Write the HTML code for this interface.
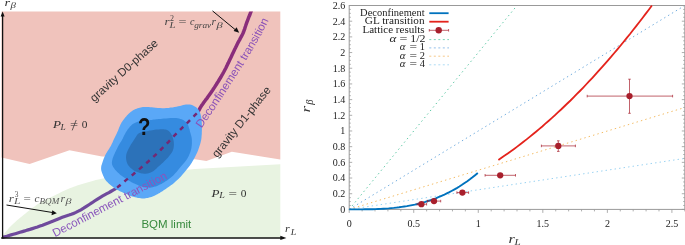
<!DOCTYPE html>
<html><head><meta charset="utf-8"><style>
html,body{margin:0;padding:0;background:#fff;}
svg{display:block;will-change:transform;}
</style></head><body>
<svg width="685" height="245" viewBox="0 0 685 245">
<rect width="685" height="245" fill="#fff"/>
<path d="M1.5,11.5 L280.3,11.5 L280.3,159.6 L231.8,151.8 L206.4,160.9 L195.0,159.3 L102.0,156.4 L69.5,150.2 L29.6,164.1 L1.5,157.4Z" fill="#f0c3bc"/>
<path d="M2.4,237.5 L2.5,237.1 L2.7,236.6 L2.8,236.2 L3.0,235.7 L3.1,235.3 L3.3,235.0 L3.4,234.8 L3.4,234.7 L3.5,234.6 L3.6,234.5 L3.8,234.2 L4.3,233.7 L5.0,232.9 L5.7,231.9 L6.7,230.7 L7.7,229.4 L8.9,228.1 L10.2,226.7 L11.7,225.3 L13.3,223.8 L15.0,222.2 L16.8,220.6 L18.7,219.1 L20.4,217.6 L22.1,216.2 L23.8,214.8 L25.5,213.4 L27.2,212.0 L28.9,210.7 L30.6,209.4 L32.3,208.1 L33.9,206.9 L35.5,205.7 L37.1,204.5 L38.9,203.4 L40.8,202.2 L43.0,201.0 L45.4,199.8 L47.9,198.6 L50.4,197.4 L52.8,196.2 L55.0,195.2 L56.9,194.3 L58.7,193.4 L60.4,192.6 L61.9,191.8 L63.5,191.0 L65.2,190.3 L66.9,189.6 L68.6,188.8 L70.3,188.1 L72.0,187.5 L73.7,186.8 L75.4,186.2 L77.1,185.6 L78.8,185.1 L80.5,184.5 L82.2,184.0 L83.9,183.5 L85.6,183.0 L87.3,182.5 L89.1,182.0 L90.9,181.4 L92.6,181.0 L94.3,180.5 L95.8,180.1 L97.2,179.8 L98.4,179.5 L99.6,179.3 L100.7,179.0 L101.8,178.8 L103.0,178.6 L195.0,169.1 L280.3,164.2 L280.3,237.8 L2.4,237.8Z" fill="#e8f3e1"/>
<clipPath id="cp"><rect x="0" y="11.4" width="285" height="230"/></clipPath>
<path d="M2.5,237.4 L4.7,236.8 L6.8,236.2 L9.0,235.5 L11.1,234.9 L13.3,234.3 L15.4,233.7 L17.7,233.0 L20.0,232.3 L22.4,231.6 L24.8,230.9 L27.3,230.1 L29.8,229.4 L32.4,228.6 L34.9,227.8 L37.5,227.0 L40.0,226.1 L42.5,225.2 L45.0,224.2 L47.6,223.2 L50.1,222.2 L52.6,221.2 L55.1,220.2 L57.6,219.2 L60.0,218.2 L62.3,217.3 L64.6,216.5 L66.8,215.8 L69.0,215.1 L71.3,214.3 L73.5,213.4 L75.9,212.4 L78.3,211.2 L80.9,209.8 L83.6,208.2 L86.4,206.4 L89.3,204.5 L92.1,202.7 L94.9,200.8 L97.5,199.1 L100.0,197.6 L102.3,196.2 L104.6,194.9 L106.8,193.7 L108.9,192.6 L110.8,191.5 L112.7,190.4 L114.4,189.4 L116.0,188.4 L117.4,187.5 L118.6,186.6 L119.6,185.8 L120.5,185.0 L121.4,184.3 L122.2,183.5 L123.1,182.8 L124.0,182.0" fill="none" stroke="#6f4a9c" stroke-width="3.2" stroke-linecap="butt"/>
<path d="M190.0,121.0 L190.9,120.0 L191.8,119.1 L192.7,118.1 L193.6,117.1 L194.5,116.1 L195.4,115.2 L196.2,114.2 L197.0,113.2 L197.7,112.2 L198.3,111.3 L198.9,110.3 L199.4,109.4 L199.9,108.4 L200.5,107.4 L201.1,106.4 L201.8,105.3 L202.6,104.2 L203.4,103.0 L204.3,101.8 L205.2,100.6 L206.1,99.3 L207.1,98.1 L208.0,96.8 L208.9,95.5 L209.8,94.2 L210.7,92.9 L211.7,91.5 L212.6,90.2 L213.5,88.8 L214.5,87.4 L215.4,85.9 L216.3,84.5 L217.2,83.0 L218.2,81.5 L219.1,80.0 L220.0,78.5 L220.9,77.0 L221.8,75.4 L222.7,73.9 L223.6,72.3 L224.4,70.7 L225.2,69.2 L226.0,67.7 L226.8,66.1 L227.5,64.5 L228.3,62.9 L229.1,61.2 L229.9,59.5 L230.8,57.7 L231.7,55.8 L232.6,53.8 L233.6,51.7 L234.5,49.7 L235.5,47.8 L236.4,45.9 L237.2,44.2 L238.0,42.6 L238.8,41.1 L239.6,39.8 L240.3,38.4 L241.0,37.1 L241.7,35.8 L242.4,34.5 L243.0,33.2 L243.6,31.8 L244.1,30.5 L244.6,29.1 L245.0,27.7 L245.5,26.3 L245.9,25.0 L246.4,23.6 L246.9,22.2 L247.4,20.8 L248.0,19.3 L248.6,17.7 L249.2,16.2 L249.8,14.8 L250.3,13.4 L250.8,12.2 L251.2,11.1 L251.5,10.3 L251.8,9.6 L252.0,9.0 L252.1,8.6 L252.3,8.2 L252.4,7.9 L252.5,7.5 L252.7,7.0" fill="none" stroke="#892d7b" stroke-width="3.5" stroke-linecap="butt" clip-path="url(#cp)"/>
<clipPath id="cpb"><path d="M137.6,108.3 L138.7,108.1 L139.7,107.8 L140.8,107.6 L141.9,107.3 L143.0,107.1 L144.0,107.0 L145.0,106.9 L145.8,106.9 L146.6,107.0 L147.6,107.0 L148.6,107.1 L150.0,107.2 L151.7,107.3 L153.6,107.6 L155.7,107.8 L157.9,108.0 L160.1,108.1 L162.2,108.2 L164.3,108.2 L166.4,108.0 L168.5,107.9 L170.6,107.6 L172.6,107.4 L174.5,107.1 L176.4,106.8 L178.2,106.3 L180.0,105.9 L181.7,105.4 L183.2,105.1 L184.7,104.8 L186.0,104.6 L187.1,104.5 L188.1,104.5 L189.1,104.5 L190.0,104.6 L191.0,104.8 L192.0,105.1 L193.0,105.4 L193.9,105.9 L194.8,106.4 L195.7,107.0 L196.5,107.6 L197.2,108.3 L197.9,109.0 L198.5,109.8 L199.0,110.7 L199.5,111.6 L200.0,112.6 L200.4,113.7 L200.7,114.8 L201.0,115.9 L201.2,117.2 L201.4,118.6 L201.6,120.0 L201.7,121.6 L201.8,123.3 L201.9,125.1 L201.9,127.0 L201.9,128.8 L201.9,130.6 L201.8,132.3 L201.8,134.1 L201.6,135.8 L201.5,137.5 L201.3,139.2 L201.0,140.8 L200.6,142.4 L200.2,144.0 L199.7,145.6 L199.2,147.1 L198.7,148.6 L198.2,150.0 L197.7,151.3 L197.2,152.4 L196.7,153.6 L196.2,154.6 L195.6,155.8 L195.0,157.0 L194.3,158.3 L193.5,159.7 L192.7,161.0 L191.9,162.5 L190.9,163.9 L189.9,165.4 L188.7,167.0 L187.5,168.6 L186.1,170.3 L184.7,171.9 L183.4,173.5 L182.1,175.0 L180.9,176.4 L179.6,177.7 L178.4,178.9 L177.2,180.0 L176.1,181.1 L175.0,182.1 L174.0,183.0 L173.1,183.7 L172.2,184.4 L171.3,185.0 L170.3,185.7 L169.3,186.4 L168.2,187.2 L167.0,188.1 L165.8,188.9 L164.5,189.8 L163.3,190.6 L162.1,191.4 L160.9,192.1 L159.7,192.9 L158.5,193.6 L157.4,194.2 L156.2,194.8 L155.0,195.4 L153.8,195.9 L152.6,196.4 L151.5,196.9 L150.3,197.3 L149.1,197.6 L147.9,197.9 L146.7,198.1 L145.6,198.3 L144.4,198.4 L143.2,198.4 L142.0,198.4 L140.7,198.3 L139.3,198.1 L137.9,197.9 L136.5,197.6 L135.0,197.2 L133.5,196.8 L132.1,196.4 L130.7,195.9 L129.2,195.4 L127.8,194.8 L126.3,194.1 L124.9,193.5 L123.6,192.9 L122.3,192.3 L121.1,191.8 L119.8,191.2 L118.7,190.6 L117.5,190.0 L116.4,189.4 L115.3,188.7 L114.3,188.0 L113.3,187.3 L112.4,186.5 L111.4,185.8 L110.5,185.0 L109.6,184.2 L108.7,183.4 L107.8,182.6 L107.0,181.8 L106.2,180.9 L105.5,180.0 L104.8,179.0 L104.2,177.9 L103.7,176.8 L103.2,175.7 L102.7,174.6 L102.3,173.6 L102.0,172.7 L101.7,171.8 L101.4,171.0 L101.3,170.2 L101.1,169.3 L101.1,168.5 L101.1,167.7 L101.2,166.9 L101.3,166.1 L101.5,165.3 L101.8,164.4 L102.1,163.4 L102.5,162.2 L103.0,160.8 L103.5,159.3 L104.1,157.8 L104.7,156.4 L105.2,155.2 L105.7,154.2 L106.2,153.2 L106.8,152.4 L107.3,151.6 L107.8,150.8 L108.3,150.0 L108.8,149.2 L109.3,148.4 L109.8,147.6 L110.3,146.7 L110.8,145.9 L111.3,144.9 L111.8,143.8 L112.4,142.7 L112.9,141.5 L113.4,140.3 L114.0,139.1 L114.5,138.0 L115.0,136.9 L115.6,135.8 L116.1,134.7 L116.6,133.7 L117.1,132.6 L117.6,131.5 L118.1,130.4 L118.5,129.3 L119.0,128.1 L119.4,127.0 L119.9,126.0 L120.3,125.0 L120.7,124.1 L121.1,123.4 L121.5,122.6 L121.9,122.0 L122.4,121.3 L122.9,120.5 L123.5,119.7 L124.1,118.9 L124.8,118.0 L125.4,117.2 L126.2,116.4 L126.9,115.6 L127.7,114.8 L128.4,114.0 L129.2,113.3 L130.1,112.5 L130.9,111.8 L131.8,111.2 L132.7,110.6 L133.6,110.1 L134.6,109.6 L135.6,109.1 L136.6,108.7 L137.6,108.3 L138.6,108.0 L139.7,107.7 L140.8,107.5 L141.9,107.3 L142.9,107.1 L144.0,107.0 L145.0,106.9 L146.0,107.0 L147.0,107.0 L148.0,107.1 L149.0,107.1 L150.0,107.2Z"/></clipPath>
<path d="M137.6,108.3 L138.7,108.1 L139.7,107.8 L140.8,107.6 L141.9,107.3 L143.0,107.1 L144.0,107.0 L145.0,106.9 L145.8,106.9 L146.6,107.0 L147.6,107.0 L148.6,107.1 L150.0,107.2 L151.7,107.3 L153.6,107.6 L155.7,107.8 L157.9,108.0 L160.1,108.1 L162.2,108.2 L164.3,108.2 L166.4,108.0 L168.5,107.9 L170.6,107.6 L172.6,107.4 L174.5,107.1 L176.4,106.8 L178.2,106.3 L180.0,105.9 L181.7,105.4 L183.2,105.1 L184.7,104.8 L186.0,104.6 L187.1,104.5 L188.1,104.5 L189.1,104.5 L190.0,104.6 L191.0,104.8 L192.0,105.1 L193.0,105.4 L193.9,105.9 L194.8,106.4 L195.7,107.0 L196.5,107.6 L197.2,108.3 L197.9,109.0 L198.5,109.8 L199.0,110.7 L199.5,111.6 L200.0,112.6 L200.4,113.7 L200.7,114.8 L201.0,115.9 L201.2,117.2 L201.4,118.6 L201.6,120.0 L201.7,121.6 L201.8,123.3 L201.9,125.1 L201.9,127.0 L201.9,128.8 L201.9,130.6 L201.8,132.3 L201.8,134.1 L201.6,135.8 L201.5,137.5 L201.3,139.2 L201.0,140.8 L200.6,142.4 L200.2,144.0 L199.7,145.6 L199.2,147.1 L198.7,148.6 L198.2,150.0 L197.7,151.3 L197.2,152.4 L196.7,153.6 L196.2,154.6 L195.6,155.8 L195.0,157.0 L194.3,158.3 L193.5,159.7 L192.7,161.0 L191.9,162.5 L190.9,163.9 L189.9,165.4 L188.7,167.0 L187.5,168.6 L186.1,170.3 L184.7,171.9 L183.4,173.5 L182.1,175.0 L180.9,176.4 L179.6,177.7 L178.4,178.9 L177.2,180.0 L176.1,181.1 L175.0,182.1 L174.0,183.0 L173.1,183.7 L172.2,184.4 L171.3,185.0 L170.3,185.7 L169.3,186.4 L168.2,187.2 L167.0,188.1 L165.8,188.9 L164.5,189.8 L163.3,190.6 L162.1,191.4 L160.9,192.1 L159.7,192.9 L158.5,193.6 L157.4,194.2 L156.2,194.8 L155.0,195.4 L153.8,195.9 L152.6,196.4 L151.5,196.9 L150.3,197.3 L149.1,197.6 L147.9,197.9 L146.7,198.1 L145.6,198.3 L144.4,198.4 L143.2,198.4 L142.0,198.4 L140.7,198.3 L139.3,198.1 L137.9,197.9 L136.5,197.6 L135.0,197.2 L133.5,196.8 L132.1,196.4 L130.7,195.9 L129.2,195.4 L127.8,194.8 L126.3,194.1 L124.9,193.5 L123.6,192.9 L122.3,192.3 L121.1,191.8 L119.8,191.2 L118.7,190.6 L117.5,190.0 L116.4,189.4 L115.3,188.7 L114.3,188.0 L113.3,187.3 L112.4,186.5 L111.4,185.8 L110.5,185.0 L109.6,184.2 L108.7,183.4 L107.8,182.6 L107.0,181.8 L106.2,180.9 L105.5,180.0 L104.8,179.0 L104.2,177.9 L103.7,176.8 L103.2,175.7 L102.7,174.6 L102.3,173.6 L102.0,172.7 L101.7,171.8 L101.4,171.0 L101.3,170.2 L101.1,169.3 L101.1,168.5 L101.1,167.7 L101.2,166.9 L101.3,166.1 L101.5,165.3 L101.8,164.4 L102.1,163.4 L102.5,162.2 L103.0,160.8 L103.5,159.3 L104.1,157.8 L104.7,156.4 L105.2,155.2 L105.7,154.2 L106.2,153.2 L106.8,152.4 L107.3,151.6 L107.8,150.8 L108.3,150.0 L108.8,149.2 L109.3,148.4 L109.8,147.6 L110.3,146.7 L110.8,145.9 L111.3,144.9 L111.8,143.8 L112.4,142.7 L112.9,141.5 L113.4,140.3 L114.0,139.1 L114.5,138.0 L115.0,136.9 L115.6,135.8 L116.1,134.7 L116.6,133.7 L117.1,132.6 L117.6,131.5 L118.1,130.4 L118.5,129.3 L119.0,128.1 L119.4,127.0 L119.9,126.0 L120.3,125.0 L120.7,124.1 L121.1,123.4 L121.5,122.6 L121.9,122.0 L122.4,121.3 L122.9,120.5 L123.5,119.7 L124.1,118.9 L124.8,118.0 L125.4,117.2 L126.2,116.4 L126.9,115.6 L127.7,114.8 L128.4,114.0 L129.2,113.3 L130.1,112.5 L130.9,111.8 L131.8,111.2 L132.7,110.6 L133.6,110.1 L134.6,109.6 L135.6,109.1 L136.6,108.7 L137.6,108.3 L138.6,108.0 L139.7,107.7 L140.8,107.5 L141.9,107.3 L142.9,107.1 L144.0,107.0 L145.0,106.9 L146.0,107.0 L147.0,107.0 L148.0,107.1 L149.0,107.1 L150.0,107.2Z" fill="#5aa8f7"/>
<path d="M138.6,121.5 L138.8,121.4 L138.8,121.3 L138.9,121.1 L139.0,121.0 L139.4,120.9 L140.0,120.8 L141.0,120.7 L142.2,120.6 L143.7,120.6 L145.2,120.5 L146.6,120.4 L148.0,120.3 L149.2,120.2 L150.4,120.0 L151.5,119.9 L152.7,119.7 L153.8,119.5 L155.0,119.4 L156.1,119.3 L157.2,119.2 L158.3,119.1 L159.4,119.0 L160.7,118.9 L162.2,118.8 L164.0,118.6 L166.1,118.5 L168.3,118.2 L170.5,118.1 L172.6,118.0 L174.5,118.0 L176.1,118.1 L177.7,118.3 L179.1,118.6 L180.4,118.9 L181.6,119.3 L182.7,119.8 L183.7,120.3 L184.6,120.9 L185.4,121.5 L186.2,122.2 L186.9,123.0 L187.5,124.0 L188.1,125.1 L188.6,126.4 L189.0,127.9 L189.5,129.3 L189.8,130.8 L190.2,132.2 L190.6,133.5 L190.9,134.8 L191.3,136.1 L191.6,137.4 L191.8,138.8 L191.9,140.2 L191.9,141.7 L191.9,143.3 L191.8,144.9 L191.6,146.6 L191.4,148.2 L191.0,149.8 L190.5,151.4 L190.0,153.0 L189.3,154.6 L188.6,156.2 L187.8,157.7 L186.9,159.2 L186.0,160.6 L184.9,161.9 L183.8,163.2 L182.7,164.4 L181.6,165.7 L180.5,166.9 L179.5,168.2 L178.5,169.4 L177.5,170.7 L176.5,171.9 L175.5,173.1 L174.4,174.3 L173.3,175.4 L172.1,176.5 L170.9,177.5 L169.6,178.5 L168.3,179.5 L167.0,180.4 L165.6,181.3 L164.3,182.2 L162.8,183.1 L161.4,183.9 L159.9,184.6 L158.5,185.3 L157.1,185.9 L155.6,186.4 L154.2,186.8 L152.8,187.2 L151.3,187.4 L149.9,187.6 L148.5,187.6 L147.0,187.6 L145.6,187.4 L144.2,187.1 L142.8,186.8 L141.5,186.5 L140.2,186.1 L139.0,185.7 L137.7,185.1 L136.6,184.6 L135.4,184.1 L134.4,183.6 L133.5,183.2 L132.7,182.8 L131.9,182.4 L131.2,182.0 L130.4,181.5 L129.5,181.0 L128.5,180.4 L127.4,179.7 L126.3,179.0 L125.2,178.3 L124.1,177.6 L123.0,176.8 L122.0,176.0 L120.9,175.2 L119.9,174.4 L119.0,173.6 L118.1,172.7 L117.2,171.9 L116.4,171.1 L115.6,170.2 L114.9,169.4 L114.3,168.6 L113.7,167.8 L113.2,167.0 L112.8,166.3 L112.5,165.6 L112.2,165.0 L112.1,164.4 L112.0,163.7 L111.9,163.0 L111.9,162.3 L112.0,161.5 L112.1,160.7 L112.3,159.9 L112.5,159.0 L112.8,158.1 L113.2,157.1 L113.6,156.0 L114.0,154.9 L114.6,153.8 L115.1,152.6 L115.6,151.5 L116.1,150.4 L116.7,149.3 L117.2,148.2 L117.8,147.1 L118.3,146.0 L118.9,145.0 L119.5,144.0 L120.0,143.1 L120.6,142.2 L121.1,141.4 L121.7,140.5 L122.2,139.5 L122.8,138.5 L123.3,137.3 L123.8,136.2 L124.4,135.1 L125.0,134.0 L125.5,133.0 L126.0,132.1 L126.6,131.2 L127.1,130.4 L127.6,129.6 L128.2,128.9 L128.8,128.1 L129.4,127.4 L130.0,126.6 L130.7,125.9 L131.4,125.2 L132.1,124.6 L132.9,124.0 L133.8,123.5 L134.8,123.0 L135.9,122.5 L137.0,122.1 L137.9,121.8 L138.6,121.5 L139.0,121.3 L139.1,121.1 L139.2,121.0 L139.2,121.0 L139.4,120.9 L140.0,120.8 L141.0,120.7 L142.2,120.6 L143.6,120.5 L145.1,120.5 L146.6,120.4 L148.0,120.3Z" fill="#358be0"/>
<path d="M134.6,139.0 L135.3,138.0 L135.9,137.0 L136.5,135.9 L137.2,134.9 L138.0,134.0 L138.9,133.3 L140.0,132.7 L141.3,132.3 L142.6,132.0 L144.0,131.7 L145.4,131.5 L146.8,131.2 L148.1,130.9 L149.5,130.6 L150.8,130.4 L152.1,130.2 L153.5,130.0 L154.8,129.8 L156.2,129.6 L157.5,129.5 L158.9,129.4 L160.3,129.3 L161.5,129.3 L162.7,129.3 L163.7,129.3 L164.7,129.4 L165.6,129.5 L166.4,129.7 L167.2,130.0 L168.0,130.4 L168.8,131.0 L169.5,131.7 L170.2,132.5 L170.9,133.4 L171.5,134.4 L172.0,135.5 L172.5,136.7 L172.9,138.0 L173.3,139.4 L173.6,140.8 L173.8,142.2 L173.9,143.5 L173.9,144.7 L173.8,146.0 L173.7,147.2 L173.5,148.3 L173.2,149.4 L172.8,150.5 L172.4,151.5 L171.8,152.4 L171.3,153.3 L170.6,154.2 L169.9,155.1 L169.2,156.0 L168.4,156.9 L167.6,157.9 L166.7,158.8 L165.8,159.7 L164.9,160.6 L164.0,161.5 L163.1,162.4 L162.2,163.2 L161.3,164.0 L160.3,164.9 L159.4,165.7 L158.5,166.5 L157.6,167.3 L156.8,168.2 L155.9,169.0 L155.0,169.8 L154.1,170.6 L153.2,171.2 L152.2,171.8 L151.2,172.3 L150.1,172.7 L149.1,173.1 L148.0,173.4 L147.0,173.6 L146.0,173.7 L145.0,173.7 L143.9,173.7 L142.9,173.6 L141.9,173.4 L140.9,173.2 L139.9,172.9 L138.8,172.6 L137.8,172.3 L136.7,171.8 L135.7,171.4 L134.8,170.9 L133.9,170.4 L133.0,169.8 L132.2,169.2 L131.4,168.6 L130.6,167.9 L129.9,167.2 L129.3,166.5 L128.6,165.7 L128.1,165.0 L127.6,164.2 L127.2,163.3 L126.8,162.3 L126.5,161.2 L126.3,160.1 L126.1,158.8 L126.0,157.5 L126.1,156.3 L126.2,155.0 L126.5,153.8 L126.9,152.6 L127.4,151.3 L128.0,150.1 L128.6,148.8 L129.3,147.5 L130.1,146.1 L130.9,144.6 L131.9,143.1 L132.8,141.7 L133.7,140.3 L134.6,139.0 L135.3,137.8 L136.0,136.8 L136.6,135.8 L137.2,134.8 L138.0,134.0 L138.9,133.3 L140.0,132.7 L141.3,132.3 L142.6,132.0 L144.0,131.8 L145.4,131.5 L146.8,131.2Z" fill="#2c72b9"/>
<path d="M100.0,197.6 L102.0,196.4 L104.1,195.2 L106.3,194.0 L108.4,192.8 L110.5,191.6 L112.4,190.4 L114.3,189.3 L116.0,188.2 L117.5,187.2 L118.7,186.2 L119.9,185.4 L120.9,184.5 L121.9,183.6 L123.0,182.6 L124.3,181.6 L125.7,180.4 L127.3,179.1 L129.1,177.6 L131.0,176.1 L133.0,174.5 L135.0,172.8 L137.0,171.1 L138.9,169.5 L140.8,167.9 L142.6,166.3 L144.4,164.8 L146.2,163.2 L148.0,161.7 L149.8,160.1 L151.5,158.5 L153.3,156.9 L155.0,155.3 L156.8,153.6 L158.6,151.8 L160.5,150.0 L162.3,148.2 L164.0,146.4 L165.7,144.7 L167.2,143.2 L168.6,141.8 L169.6,140.7 L170.4,140.0 L170.9,139.4 L171.3,138.9 L171.8,138.3 L172.6,137.5 L173.6,136.4 L175.1,134.9 L177.2,132.8 L179.9,130.1 L182.9,127.1 L186.1,124.0 L189.3,120.8 L192.3,117.8 L194.9,115.2 L197.0,113.2 L198.5,111.7 L199.6,110.7 L200.4,109.9 L201.0,109.3 L201.4,108.9 L201.9,108.5 L202.4,108.1 L203.0,107.5" fill="none" stroke="#742873" stroke-width="2.5" stroke-dasharray="4.5 5" stroke-dashoffset="-0.8" clip-path="url(#cpb)"/>
<line x1="1.2" y1="237.9" x2="281" y2="237.9" stroke="#111" stroke-width="1.5"/>
<path d="M280.3,235.7 L286.4,237.9 L280.3,240.1 Z" fill="#111"/>
<line x1="2.6" y1="238.6" x2="2.6" y2="16" stroke="#111" stroke-width="1.3"/>
<path d="M0.6,16.6 L2.6,11.6 L4.6,16.6 Z" fill="#111"/>
<line x1="212.5" y1="10.9" x2="236" y2="30.3" stroke="#111" stroke-width="1"/>
<path d="M239.2,32.8 L233.6,30.9 L236.6,27.3 Z" fill="#111"/>
<line x1="6.5" y1="205" x2="53" y2="212.6" stroke="#111" stroke-width="1"/>
<path d="M56.8,213.3 L51.5,215.3 L52.3,210.3 Z" fill="#111"/>
<text x="4.4" y="6.1" font-size="9.6" fill="#333" style="font-family:&quot;Liberation Serif&quot;,serif;font-style:italic" textLength="5.6" lengthAdjust="spacingAndGlyphs">r</text>
<text x="10.6" y="8.3" font-size="7.5" fill="#333" style="font-family:&quot;Liberation Serif&quot;,serif;font-style:italic" textLength="5.4" lengthAdjust="spacingAndGlyphs">β</text>
<text x="284.9" y="232.1" font-size="10.8" fill="#333" style="font-family:&quot;Liberation Serif&quot;,serif;font-style:italic" textLength="4.7" lengthAdjust="spacingAndGlyphs">r</text>
<text x="290.8" y="234.6" font-size="8.0" fill="#333" style="font-family:&quot;Liberation Serif&quot;,serif;font-style:italic" textLength="5.5" lengthAdjust="spacingAndGlyphs">L</text>
<text x="164.4" y="25.3" font-size="11.4" fill="#444" style="font-family:&quot;Liberation Serif&quot;,serif;font-style:italic" textLength="5.1" lengthAdjust="spacingAndGlyphs">r</text>
<text x="170.0" y="21.2" font-size="8.0" fill="#444" style="font-family:&quot;Liberation Serif&quot;,serif;font-style:normal" textLength="4.0" lengthAdjust="spacingAndGlyphs">2</text>
<text x="169.5" y="27.8" font-size="8.0" fill="#444" style="font-family:&quot;Liberation Serif&quot;,serif;font-style:italic" textLength="6.0" lengthAdjust="spacingAndGlyphs">L</text>
<text x="178.6" y="25.3" font-size="11.4" fill="#444" style="font-family:&quot;Liberation Serif&quot;,serif;font-style:normal" textLength="8.0" lengthAdjust="spacingAndGlyphs">=</text>
<text x="189.9" y="25.3" font-size="11.4" fill="#444" style="font-family:&quot;Liberation Serif&quot;,serif;font-style:italic" textLength="4.5" lengthAdjust="spacingAndGlyphs">c</text>
<text x="194.2" y="27.8" font-size="8.0" fill="#444" style="font-family:&quot;Liberation Serif&quot;,serif;font-style:italic" textLength="17.0" lengthAdjust="spacingAndGlyphs">grav</text>
<text x="211.4" y="25.3" font-size="11.4" fill="#444" style="font-family:&quot;Liberation Serif&quot;,serif;font-style:italic" textLength="4.5" lengthAdjust="spacingAndGlyphs">r</text>
<text x="216.4" y="27.8" font-size="8.0" fill="#444" style="font-family:&quot;Liberation Serif&quot;,serif;font-style:italic" textLength="6.2" lengthAdjust="spacingAndGlyphs">β</text>
<text x="8.7" y="201.8" font-size="11.4" fill="#555" style="font-family:&quot;Liberation Serif&quot;,serif;font-style:italic" textLength="5.2" lengthAdjust="spacingAndGlyphs">r</text>
<text x="14.8" y="197.2" font-size="8.0" fill="#555" style="font-family:&quot;Liberation Serif&quot;,serif;font-style:normal" textLength="3.7" lengthAdjust="spacingAndGlyphs">3</text>
<text x="14.0" y="204.3" font-size="8.0" fill="#555" style="font-family:&quot;Liberation Serif&quot;,serif;font-style:italic" textLength="6.5" lengthAdjust="spacingAndGlyphs">L</text>
<text x="23.4" y="201.8" font-size="11.4" fill="#555" style="font-family:&quot;Liberation Serif&quot;,serif;font-style:normal" textLength="7.3" lengthAdjust="spacingAndGlyphs">=</text>
<text x="34.4" y="201.8" font-size="11.4" fill="#555" style="font-family:&quot;Liberation Serif&quot;,serif;font-style:italic" textLength="5.0" lengthAdjust="spacingAndGlyphs">c</text>
<text x="39.5" y="204.3" font-size="8.0" fill="#555" style="font-family:&quot;Liberation Serif&quot;,serif;font-style:italic" textLength="19.8" lengthAdjust="spacingAndGlyphs">BQM</text>
<text x="60.6" y="201.8" font-size="11.4" fill="#555" style="font-family:&quot;Liberation Serif&quot;,serif;font-style:italic" textLength="4.6" lengthAdjust="spacingAndGlyphs">r</text>
<text x="65.4" y="204.3" font-size="8.0" fill="#555" style="font-family:&quot;Liberation Serif&quot;,serif;font-style:italic" textLength="6.0" lengthAdjust="spacingAndGlyphs">β</text>
<text x="53.0" y="127.8" font-size="11.2" fill="#333" style="font-family:&quot;Liberation Serif&quot;,serif;font-style:italic" textLength="8.0" lengthAdjust="spacingAndGlyphs">P</text>
<text x="60.6" y="129.7" font-size="8.0" fill="#333" style="font-family:&quot;Liberation Serif&quot;,serif;font-style:italic" textLength="5.2" lengthAdjust="spacingAndGlyphs">L</text>
<text x="69.9" y="127.8" font-size="11.2" fill="#333" style="font-family:&quot;Liberation Serif&quot;,serif;font-style:normal" textLength="8.1" lengthAdjust="spacingAndGlyphs">=</text>
<line x1="72.2" y1="130.4" x2="76.2" y2="120" stroke="#333" stroke-width="0.75"/>
<text x="81.7" y="127.9" font-size="11.2" fill="#333" style="font-family:&quot;Liberation Serif&quot;,serif;font-style:normal" textLength="5.7" lengthAdjust="spacingAndGlyphs">0</text>
<text x="211.6" y="196.5" font-size="11.2" fill="#333" style="font-family:&quot;Liberation Serif&quot;,serif;font-style:italic" textLength="8.0" lengthAdjust="spacingAndGlyphs">P</text>
<text x="219.2" y="198.1" font-size="8.0" fill="#333" style="font-family:&quot;Liberation Serif&quot;,serif;font-style:italic" textLength="5.6" lengthAdjust="spacingAndGlyphs">L</text>
<text x="228.5" y="196.6" font-size="11.2" fill="#333" style="font-family:&quot;Liberation Serif&quot;,serif;font-style:normal" textLength="8.5" lengthAdjust="spacingAndGlyphs">=</text>
<text x="240.7" y="196.8" font-size="11.2" fill="#333" style="font-family:&quot;Liberation Serif&quot;,serif;font-style:normal" textLength="5.7" lengthAdjust="spacingAndGlyphs">0</text>
<text x="141.4" y="228.1" font-size="11.5" fill="#388a3e" style="font-family:&quot;Liberation Sans&quot;,sans-serif">BQM limit</text>
<text x="137.9" y="134.8" font-size="23.5" font-weight="bold" fill="#111" style="font-family:&quot;Liberation Sans&quot;,sans-serif" textLength="12.4" lengthAdjust="spacingAndGlyphs">?</text>
<text transform="translate(94.2,102.4) rotate(-42)" font-size="11.5" fill="#333" style="font-family:&quot;Liberation Sans&quot;,sans-serif">gravity D0-phase</text>
<text transform="translate(217.3,158.2) rotate(-51.5)" font-size="11.5" fill="#333" style="font-family:&quot;Liberation Sans&quot;,sans-serif">gravity D1-phase</text>
<defs><path id="tp1" d="M201.4,128.6 Q254.4,51.3 268.8,20"/><path id="tp2" d="M54.9,237.3 L171.1,176.6"/></defs>
<text font-size="11.5" fill="#8a52b8" style="font-family:&quot;Liberation Sans&quot;,sans-serif"><textPath href="#tp1" startOffset="0">Deconfinement transition</textPath></text>
<text font-size="11.5" fill="#8a56bc" style="font-family:&quot;Liberation Sans&quot;,sans-serif"><textPath href="#tp2" startOffset="0">Deconfinement transition</textPath></text>
<line x1="349.2" y1="209.4" x2="517.0" y2="5.5" stroke="#5cc8a4" stroke-width="1.0" stroke-dasharray="1.4 3.15"/>
<line x1="349.2" y1="209.4" x2="684.8" y2="5.5" stroke="#72addf" stroke-width="1.0" stroke-dasharray="1.4 3.15"/>
<line x1="349.2" y1="209.4" x2="684.8" y2="107.5" stroke="#f4bc64" stroke-width="1.0" stroke-dasharray="1.4 3.15"/>
<line x1="349.2" y1="209.4" x2="684.8" y2="158.4" stroke="#98d2f2" stroke-width="1.0" stroke-dasharray="1.4 3.15"/>
<rect x="349.2" y="5.5" width="335.6" height="203.9" fill="none" stroke="#999" stroke-width="1"/>
<line x1="349.2" y1="209.40" x2="352.2" y2="209.40" stroke="#999" stroke-width="0.8"/>
<line x1="684.8" y1="209.40" x2="681.8" y2="209.40" stroke="#999" stroke-width="0.8"/>
<line x1="349.2" y1="205.48" x2="350.8" y2="205.48" stroke="#999" stroke-width="0.8"/>
<line x1="684.8" y1="205.48" x2="683.2" y2="205.48" stroke="#999" stroke-width="0.8"/>
<line x1="349.2" y1="201.56" x2="350.8" y2="201.56" stroke="#999" stroke-width="0.8"/>
<line x1="684.8" y1="201.56" x2="683.2" y2="201.56" stroke="#999" stroke-width="0.8"/>
<line x1="349.2" y1="197.64" x2="350.8" y2="197.64" stroke="#999" stroke-width="0.8"/>
<line x1="684.8" y1="197.64" x2="683.2" y2="197.64" stroke="#999" stroke-width="0.8"/>
<line x1="349.2" y1="193.72" x2="352.2" y2="193.72" stroke="#999" stroke-width="0.8"/>
<line x1="684.8" y1="193.72" x2="681.8" y2="193.72" stroke="#999" stroke-width="0.8"/>
<line x1="349.2" y1="189.80" x2="350.8" y2="189.80" stroke="#999" stroke-width="0.8"/>
<line x1="684.8" y1="189.80" x2="683.2" y2="189.80" stroke="#999" stroke-width="0.8"/>
<line x1="349.2" y1="185.87" x2="350.8" y2="185.87" stroke="#999" stroke-width="0.8"/>
<line x1="684.8" y1="185.87" x2="683.2" y2="185.87" stroke="#999" stroke-width="0.8"/>
<line x1="349.2" y1="181.95" x2="350.8" y2="181.95" stroke="#999" stroke-width="0.8"/>
<line x1="684.8" y1="181.95" x2="683.2" y2="181.95" stroke="#999" stroke-width="0.8"/>
<line x1="349.2" y1="178.03" x2="352.2" y2="178.03" stroke="#999" stroke-width="0.8"/>
<line x1="684.8" y1="178.03" x2="681.8" y2="178.03" stroke="#999" stroke-width="0.8"/>
<line x1="349.2" y1="174.11" x2="350.8" y2="174.11" stroke="#999" stroke-width="0.8"/>
<line x1="684.8" y1="174.11" x2="683.2" y2="174.11" stroke="#999" stroke-width="0.8"/>
<line x1="349.2" y1="170.19" x2="350.8" y2="170.19" stroke="#999" stroke-width="0.8"/>
<line x1="684.8" y1="170.19" x2="683.2" y2="170.19" stroke="#999" stroke-width="0.8"/>
<line x1="349.2" y1="166.27" x2="350.8" y2="166.27" stroke="#999" stroke-width="0.8"/>
<line x1="684.8" y1="166.27" x2="683.2" y2="166.27" stroke="#999" stroke-width="0.8"/>
<line x1="349.2" y1="162.35" x2="352.2" y2="162.35" stroke="#999" stroke-width="0.8"/>
<line x1="684.8" y1="162.35" x2="681.8" y2="162.35" stroke="#999" stroke-width="0.8"/>
<line x1="349.2" y1="158.43" x2="350.8" y2="158.43" stroke="#999" stroke-width="0.8"/>
<line x1="684.8" y1="158.43" x2="683.2" y2="158.43" stroke="#999" stroke-width="0.8"/>
<line x1="349.2" y1="154.51" x2="350.8" y2="154.51" stroke="#999" stroke-width="0.8"/>
<line x1="684.8" y1="154.51" x2="683.2" y2="154.51" stroke="#999" stroke-width="0.8"/>
<line x1="349.2" y1="150.59" x2="350.8" y2="150.59" stroke="#999" stroke-width="0.8"/>
<line x1="684.8" y1="150.59" x2="683.2" y2="150.59" stroke="#999" stroke-width="0.8"/>
<line x1="349.2" y1="146.66" x2="352.2" y2="146.66" stroke="#999" stroke-width="0.8"/>
<line x1="684.8" y1="146.66" x2="681.8" y2="146.66" stroke="#999" stroke-width="0.8"/>
<line x1="349.2" y1="142.74" x2="350.8" y2="142.74" stroke="#999" stroke-width="0.8"/>
<line x1="684.8" y1="142.74" x2="683.2" y2="142.74" stroke="#999" stroke-width="0.8"/>
<line x1="349.2" y1="138.82" x2="350.8" y2="138.82" stroke="#999" stroke-width="0.8"/>
<line x1="684.8" y1="138.82" x2="683.2" y2="138.82" stroke="#999" stroke-width="0.8"/>
<line x1="349.2" y1="134.90" x2="350.8" y2="134.90" stroke="#999" stroke-width="0.8"/>
<line x1="684.8" y1="134.90" x2="683.2" y2="134.90" stroke="#999" stroke-width="0.8"/>
<line x1="349.2" y1="130.98" x2="352.2" y2="130.98" stroke="#999" stroke-width="0.8"/>
<line x1="684.8" y1="130.98" x2="681.8" y2="130.98" stroke="#999" stroke-width="0.8"/>
<line x1="349.2" y1="127.06" x2="350.8" y2="127.06" stroke="#999" stroke-width="0.8"/>
<line x1="684.8" y1="127.06" x2="683.2" y2="127.06" stroke="#999" stroke-width="0.8"/>
<line x1="349.2" y1="123.14" x2="350.8" y2="123.14" stroke="#999" stroke-width="0.8"/>
<line x1="684.8" y1="123.14" x2="683.2" y2="123.14" stroke="#999" stroke-width="0.8"/>
<line x1="349.2" y1="119.22" x2="350.8" y2="119.22" stroke="#999" stroke-width="0.8"/>
<line x1="684.8" y1="119.22" x2="683.2" y2="119.22" stroke="#999" stroke-width="0.8"/>
<line x1="349.2" y1="115.30" x2="352.2" y2="115.30" stroke="#999" stroke-width="0.8"/>
<line x1="684.8" y1="115.30" x2="681.8" y2="115.30" stroke="#999" stroke-width="0.8"/>
<line x1="349.2" y1="111.38" x2="350.8" y2="111.38" stroke="#999" stroke-width="0.8"/>
<line x1="684.8" y1="111.38" x2="683.2" y2="111.38" stroke="#999" stroke-width="0.8"/>
<line x1="349.2" y1="107.45" x2="350.8" y2="107.45" stroke="#999" stroke-width="0.8"/>
<line x1="684.8" y1="107.45" x2="683.2" y2="107.45" stroke="#999" stroke-width="0.8"/>
<line x1="349.2" y1="103.53" x2="350.8" y2="103.53" stroke="#999" stroke-width="0.8"/>
<line x1="684.8" y1="103.53" x2="683.2" y2="103.53" stroke="#999" stroke-width="0.8"/>
<line x1="349.2" y1="99.61" x2="352.2" y2="99.61" stroke="#999" stroke-width="0.8"/>
<line x1="684.8" y1="99.61" x2="681.8" y2="99.61" stroke="#999" stroke-width="0.8"/>
<line x1="349.2" y1="95.69" x2="350.8" y2="95.69" stroke="#999" stroke-width="0.8"/>
<line x1="684.8" y1="95.69" x2="683.2" y2="95.69" stroke="#999" stroke-width="0.8"/>
<line x1="349.2" y1="91.77" x2="350.8" y2="91.77" stroke="#999" stroke-width="0.8"/>
<line x1="684.8" y1="91.77" x2="683.2" y2="91.77" stroke="#999" stroke-width="0.8"/>
<line x1="349.2" y1="87.85" x2="350.8" y2="87.85" stroke="#999" stroke-width="0.8"/>
<line x1="684.8" y1="87.85" x2="683.2" y2="87.85" stroke="#999" stroke-width="0.8"/>
<line x1="349.2" y1="83.93" x2="352.2" y2="83.93" stroke="#999" stroke-width="0.8"/>
<line x1="684.8" y1="83.93" x2="681.8" y2="83.93" stroke="#999" stroke-width="0.8"/>
<line x1="349.2" y1="80.01" x2="350.8" y2="80.01" stroke="#999" stroke-width="0.8"/>
<line x1="684.8" y1="80.01" x2="683.2" y2="80.01" stroke="#999" stroke-width="0.8"/>
<line x1="349.2" y1="76.09" x2="350.8" y2="76.09" stroke="#999" stroke-width="0.8"/>
<line x1="684.8" y1="76.09" x2="683.2" y2="76.09" stroke="#999" stroke-width="0.8"/>
<line x1="349.2" y1="72.16" x2="350.8" y2="72.16" stroke="#999" stroke-width="0.8"/>
<line x1="684.8" y1="72.16" x2="683.2" y2="72.16" stroke="#999" stroke-width="0.8"/>
<line x1="349.2" y1="68.24" x2="352.2" y2="68.24" stroke="#999" stroke-width="0.8"/>
<line x1="684.8" y1="68.24" x2="681.8" y2="68.24" stroke="#999" stroke-width="0.8"/>
<line x1="349.2" y1="64.32" x2="350.8" y2="64.32" stroke="#999" stroke-width="0.8"/>
<line x1="684.8" y1="64.32" x2="683.2" y2="64.32" stroke="#999" stroke-width="0.8"/>
<line x1="349.2" y1="60.40" x2="350.8" y2="60.40" stroke="#999" stroke-width="0.8"/>
<line x1="684.8" y1="60.40" x2="683.2" y2="60.40" stroke="#999" stroke-width="0.8"/>
<line x1="349.2" y1="56.48" x2="350.8" y2="56.48" stroke="#999" stroke-width="0.8"/>
<line x1="684.8" y1="56.48" x2="683.2" y2="56.48" stroke="#999" stroke-width="0.8"/>
<line x1="349.2" y1="52.56" x2="352.2" y2="52.56" stroke="#999" stroke-width="0.8"/>
<line x1="684.8" y1="52.56" x2="681.8" y2="52.56" stroke="#999" stroke-width="0.8"/>
<line x1="349.2" y1="48.64" x2="350.8" y2="48.64" stroke="#999" stroke-width="0.8"/>
<line x1="684.8" y1="48.64" x2="683.2" y2="48.64" stroke="#999" stroke-width="0.8"/>
<line x1="349.2" y1="44.72" x2="350.8" y2="44.72" stroke="#999" stroke-width="0.8"/>
<line x1="684.8" y1="44.72" x2="683.2" y2="44.72" stroke="#999" stroke-width="0.8"/>
<line x1="349.2" y1="40.80" x2="350.8" y2="40.80" stroke="#999" stroke-width="0.8"/>
<line x1="684.8" y1="40.80" x2="683.2" y2="40.80" stroke="#999" stroke-width="0.8"/>
<line x1="349.2" y1="36.88" x2="352.2" y2="36.88" stroke="#999" stroke-width="0.8"/>
<line x1="684.8" y1="36.88" x2="681.8" y2="36.88" stroke="#999" stroke-width="0.8"/>
<line x1="349.2" y1="32.96" x2="350.8" y2="32.96" stroke="#999" stroke-width="0.8"/>
<line x1="684.8" y1="32.96" x2="683.2" y2="32.96" stroke="#999" stroke-width="0.8"/>
<line x1="349.2" y1="29.03" x2="350.8" y2="29.03" stroke="#999" stroke-width="0.8"/>
<line x1="684.8" y1="29.03" x2="683.2" y2="29.03" stroke="#999" stroke-width="0.8"/>
<line x1="349.2" y1="25.11" x2="350.8" y2="25.11" stroke="#999" stroke-width="0.8"/>
<line x1="684.8" y1="25.11" x2="683.2" y2="25.11" stroke="#999" stroke-width="0.8"/>
<line x1="349.2" y1="21.19" x2="352.2" y2="21.19" stroke="#999" stroke-width="0.8"/>
<line x1="684.8" y1="21.19" x2="681.8" y2="21.19" stroke="#999" stroke-width="0.8"/>
<line x1="349.2" y1="17.27" x2="350.8" y2="17.27" stroke="#999" stroke-width="0.8"/>
<line x1="684.8" y1="17.27" x2="683.2" y2="17.27" stroke="#999" stroke-width="0.8"/>
<line x1="349.2" y1="13.35" x2="350.8" y2="13.35" stroke="#999" stroke-width="0.8"/>
<line x1="684.8" y1="13.35" x2="683.2" y2="13.35" stroke="#999" stroke-width="0.8"/>
<line x1="349.2" y1="9.43" x2="350.8" y2="9.43" stroke="#999" stroke-width="0.8"/>
<line x1="684.8" y1="9.43" x2="683.2" y2="9.43" stroke="#999" stroke-width="0.8"/>
<line x1="349.2" y1="5.51" x2="352.2" y2="5.51" stroke="#999" stroke-width="0.8"/>
<line x1="684.8" y1="5.51" x2="681.8" y2="5.51" stroke="#999" stroke-width="0.8"/>
<line x1="349.20" y1="209.4" x2="349.20" y2="212.9" stroke="#999" stroke-width="0.8"/>
<line x1="362.11" y1="209.4" x2="362.11" y2="211.4" stroke="#999" stroke-width="0.8"/>
<line x1="375.02" y1="209.4" x2="375.02" y2="211.4" stroke="#999" stroke-width="0.8"/>
<line x1="387.92" y1="209.4" x2="387.92" y2="211.4" stroke="#999" stroke-width="0.8"/>
<line x1="400.83" y1="209.4" x2="400.83" y2="211.4" stroke="#999" stroke-width="0.8"/>
<line x1="413.74" y1="209.4" x2="413.74" y2="212.9" stroke="#999" stroke-width="0.8"/>
<line x1="426.65" y1="209.4" x2="426.65" y2="211.4" stroke="#999" stroke-width="0.8"/>
<line x1="439.56" y1="209.4" x2="439.56" y2="211.4" stroke="#999" stroke-width="0.8"/>
<line x1="452.46" y1="209.4" x2="452.46" y2="211.4" stroke="#999" stroke-width="0.8"/>
<line x1="465.37" y1="209.4" x2="465.37" y2="211.4" stroke="#999" stroke-width="0.8"/>
<line x1="478.28" y1="209.4" x2="478.28" y2="212.9" stroke="#999" stroke-width="0.8"/>
<line x1="491.19" y1="209.4" x2="491.19" y2="211.4" stroke="#999" stroke-width="0.8"/>
<line x1="504.10" y1="209.4" x2="504.10" y2="211.4" stroke="#999" stroke-width="0.8"/>
<line x1="517.00" y1="209.4" x2="517.00" y2="211.4" stroke="#999" stroke-width="0.8"/>
<line x1="529.91" y1="209.4" x2="529.91" y2="211.4" stroke="#999" stroke-width="0.8"/>
<line x1="542.82" y1="209.4" x2="542.82" y2="212.9" stroke="#999" stroke-width="0.8"/>
<line x1="555.73" y1="209.4" x2="555.73" y2="211.4" stroke="#999" stroke-width="0.8"/>
<line x1="568.64" y1="209.4" x2="568.64" y2="211.4" stroke="#999" stroke-width="0.8"/>
<line x1="581.54" y1="209.4" x2="581.54" y2="211.4" stroke="#999" stroke-width="0.8"/>
<line x1="594.45" y1="209.4" x2="594.45" y2="211.4" stroke="#999" stroke-width="0.8"/>
<line x1="607.36" y1="209.4" x2="607.36" y2="212.9" stroke="#999" stroke-width="0.8"/>
<line x1="620.27" y1="209.4" x2="620.27" y2="211.4" stroke="#999" stroke-width="0.8"/>
<line x1="633.18" y1="209.4" x2="633.18" y2="211.4" stroke="#999" stroke-width="0.8"/>
<line x1="646.08" y1="209.4" x2="646.08" y2="211.4" stroke="#999" stroke-width="0.8"/>
<line x1="658.99" y1="209.4" x2="658.99" y2="211.4" stroke="#999" stroke-width="0.8"/>
<line x1="671.90" y1="209.4" x2="671.90" y2="212.9" stroke="#999" stroke-width="0.8"/>
<line x1="684.81" y1="209.4" x2="684.81" y2="211.4" stroke="#999" stroke-width="0.8"/>
<text x="345.2" y="212.8" font-size="10" text-anchor="end" fill="#222" style="font-family:&quot;Liberation Serif&quot;,serif">0</text>
<text x="345.2" y="197.1" font-size="10" text-anchor="end" fill="#222" style="font-family:&quot;Liberation Serif&quot;,serif">0.2</text>
<text x="345.2" y="181.4" font-size="10" text-anchor="end" fill="#222" style="font-family:&quot;Liberation Serif&quot;,serif">0.4</text>
<text x="345.2" y="165.7" font-size="10" text-anchor="end" fill="#222" style="font-family:&quot;Liberation Serif&quot;,serif">0.6</text>
<text x="345.2" y="150.1" font-size="10" text-anchor="end" fill="#222" style="font-family:&quot;Liberation Serif&quot;,serif">0.8</text>
<text x="345.2" y="134.4" font-size="10" text-anchor="end" fill="#222" style="font-family:&quot;Liberation Serif&quot;,serif">1</text>
<text x="345.2" y="118.7" font-size="10" text-anchor="end" fill="#222" style="font-family:&quot;Liberation Serif&quot;,serif">1.2</text>
<text x="345.2" y="103.0" font-size="10" text-anchor="end" fill="#222" style="font-family:&quot;Liberation Serif&quot;,serif">1.4</text>
<text x="345.2" y="87.3" font-size="10" text-anchor="end" fill="#222" style="font-family:&quot;Liberation Serif&quot;,serif">1.6</text>
<text x="345.2" y="71.6" font-size="10" text-anchor="end" fill="#222" style="font-family:&quot;Liberation Serif&quot;,serif">1.8</text>
<text x="345.2" y="56.0" font-size="10" text-anchor="end" fill="#222" style="font-family:&quot;Liberation Serif&quot;,serif">2</text>
<text x="345.2" y="40.3" font-size="10" text-anchor="end" fill="#222" style="font-family:&quot;Liberation Serif&quot;,serif">2.2</text>
<text x="345.2" y="24.6" font-size="10" text-anchor="end" fill="#222" style="font-family:&quot;Liberation Serif&quot;,serif">2.4</text>
<text x="345.2" y="8.9" font-size="10" text-anchor="end" fill="#222" style="font-family:&quot;Liberation Serif&quot;,serif">2.6</text>
<text x="349.2" y="227.2" font-size="10" text-anchor="middle" fill="#222" style="font-family:&quot;Liberation Serif&quot;,serif">0</text>
<text x="413.7" y="227.2" font-size="10" text-anchor="middle" fill="#222" style="font-family:&quot;Liberation Serif&quot;,serif">0.5</text>
<text x="478.3" y="227.2" font-size="10" text-anchor="middle" fill="#222" style="font-family:&quot;Liberation Serif&quot;,serif">1</text>
<text x="542.8" y="227.2" font-size="10" text-anchor="middle" fill="#222" style="font-family:&quot;Liberation Serif&quot;,serif">1.5</text>
<text x="607.4" y="227.2" font-size="10" text-anchor="middle" fill="#222" style="font-family:&quot;Liberation Serif&quot;,serif">2</text>
<text x="671.9" y="227.2" font-size="10" text-anchor="middle" fill="#222" style="font-family:&quot;Liberation Serif&quot;,serif">2.5</text>
<text x="508.4" y="242.6" font-size="12" fill="#333" style="font-family:&quot;Liberation Serif&quot;,serif;font-style:italic" textLength="6.3" lengthAdjust="spacingAndGlyphs">r</text>
<text x="514.6" y="244.8" font-size="9" fill="#333" style="font-family:&quot;Liberation Serif&quot;,serif;font-style:italic" textLength="6.2" lengthAdjust="spacingAndGlyphs">L</text>
<text transform="translate(310.4,112.4) rotate(-90)" font-size="13" fill="#333" style="font-family:&quot;Liberation Serif&quot;,serif;font-style:italic" textLength="6.6" lengthAdjust="spacingAndGlyphs">r</text>
<text transform="translate(312.9,104.8) rotate(-90)" font-size="9.5" fill="#333" style="font-family:&quot;Liberation Serif&quot;,serif;font-style:italic" textLength="5.2" lengthAdjust="spacingAndGlyphs">β</text>
<path d="M349.2,209.4 L351.8,209.4 L354.4,209.4 L357.1,209.4 L359.7,209.4 L362.3,209.4 L364.9,209.3 L367.6,209.3 L370.2,209.2 L372.8,209.2 L375.4,209.1 L378.1,209.0 L380.7,208.9 L383.3,208.7 L385.9,208.6 L388.6,208.4 L391.2,208.1 L393.8,207.9 L396.4,207.6 L399.1,207.3 L401.7,206.9 L404.3,206.5 L406.9,206.1 L409.5,205.6 L412.2,205.1 L414.8,204.6 L417.4,204.0 L420.0,203.3 L422.7,202.6 L425.3,201.9 L427.9,201.0 L430.5,200.2 L433.2,199.3 L435.8,198.3 L438.4,197.2 L441.0,196.1 L443.7,195.0 L446.3,193.7 L448.9,192.4 L451.5,191.0 L454.1,189.6 L456.8,188.1 L459.4,186.5 L462.0,184.8 L464.6,183.0 L467.3,181.2 L469.9,179.3 L472.5,177.3 L475.1,175.2 L477.8,173.0" fill="none" stroke="#0072bd" stroke-width="1.9"/>
<path d="M498.4,159.9 L501.5,157.7 L504.7,155.6 L507.8,153.4 L510.9,151.2 L514.1,148.9 L517.2,146.6 L520.3,144.2 L523.5,141.8 L526.6,139.4 L529.7,136.9 L532.9,134.3 L536.0,131.7 L539.1,129.1 L542.3,126.5 L545.4,123.7 L548.5,121.0 L551.7,118.2 L554.8,115.3 L557.9,112.4 L561.1,109.5 L564.2,106.5 L567.3,103.5 L570.5,100.5 L573.6,97.4 L576.7,94.2 L579.9,91.0 L583.0,87.8 L586.1,84.5 L589.2,81.2 L592.4,77.8 L595.5,74.4 L598.6,70.9 L601.8,67.4 L604.9,63.9 L608.0,60.3 L611.2,56.7 L614.3,53.0 L617.4,49.3 L620.6,45.5 L623.7,41.7 L626.8,37.9 L630.0,34.0 L633.1,30.0 L636.2,26.1 L639.4,22.0 L642.5,18.0 L645.6,13.9 L648.8,9.7 L651.9,5.5" fill="none" stroke="#e4231c" stroke-width="1.8"/>
<line x1="417.1" y1="204.2" x2="426.6" y2="204.2" stroke="#a81f2c" stroke-width="0.7"/>
<line x1="417.1" y1="202.9" x2="417.1" y2="205.5" stroke="#a81f2c" stroke-width="0.7"/>
<line x1="426.6" y1="202.9" x2="426.6" y2="205.5" stroke="#a81f2c" stroke-width="0.7"/>
<circle cx="421.4" cy="204.2" r="3.15" fill="#a81f2c"/>
<line x1="427.4" y1="201.1" x2="440.7" y2="201.1" stroke="#a81f2c" stroke-width="0.7"/>
<line x1="427.4" y1="199.8" x2="427.4" y2="202.4" stroke="#a81f2c" stroke-width="0.7"/>
<line x1="440.7" y1="199.8" x2="440.7" y2="202.4" stroke="#a81f2c" stroke-width="0.7"/>
<circle cx="434.0" cy="201.1" r="3.15" fill="#a81f2c"/>
<line x1="456.9" y1="192.6" x2="468.6" y2="192.6" stroke="#a81f2c" stroke-width="0.7"/>
<line x1="456.9" y1="191.3" x2="456.9" y2="193.9" stroke="#a81f2c" stroke-width="0.7"/>
<line x1="468.6" y1="191.3" x2="468.6" y2="193.9" stroke="#a81f2c" stroke-width="0.7"/>
<circle cx="462.4" cy="192.6" r="3.15" fill="#a81f2c"/>
<line x1="485.1" y1="175.3" x2="515.5" y2="175.3" stroke="#a81f2c" stroke-width="0.7"/>
<line x1="485.1" y1="174.0" x2="485.1" y2="176.6" stroke="#a81f2c" stroke-width="0.7"/>
<line x1="515.5" y1="174.0" x2="515.5" y2="176.6" stroke="#a81f2c" stroke-width="0.7"/>
<circle cx="500.2" cy="175.3" r="3.15" fill="#a81f2c"/>
<line x1="541.4" y1="145.9" x2="575.4" y2="145.9" stroke="#a81f2c" stroke-width="0.7"/>
<line x1="541.4" y1="144.6" x2="541.4" y2="147.2" stroke="#a81f2c" stroke-width="0.7"/>
<line x1="575.4" y1="144.6" x2="575.4" y2="147.2" stroke="#a81f2c" stroke-width="0.7"/>
<line x1="558.3" y1="140.8" x2="558.3" y2="151.4" stroke="#a81f2c" stroke-width="0.7"/>
<line x1="557.0" y1="140.8" x2="559.6" y2="140.8" stroke="#a81f2c" stroke-width="0.7"/>
<line x1="557.0" y1="151.4" x2="559.6" y2="151.4" stroke="#a81f2c" stroke-width="0.7"/>
<circle cx="558.3" cy="145.9" r="3.15" fill="#a81f2c"/>
<line x1="587.2" y1="96.1" x2="672.6" y2="96.1" stroke="#a81f2c" stroke-width="0.7"/>
<line x1="587.2" y1="94.8" x2="587.2" y2="97.4" stroke="#a81f2c" stroke-width="0.7"/>
<line x1="672.6" y1="94.8" x2="672.6" y2="97.4" stroke="#a81f2c" stroke-width="0.7"/>
<line x1="629.5" y1="79.2" x2="629.5" y2="113.3" stroke="#a81f2c" stroke-width="0.7"/>
<line x1="628.2" y1="79.2" x2="630.8" y2="79.2" stroke="#a81f2c" stroke-width="0.7"/>
<line x1="628.2" y1="113.3" x2="630.8" y2="113.3" stroke="#a81f2c" stroke-width="0.7"/>
<circle cx="629.5" cy="96.1" r="3.15" fill="#a81f2c"/>
<text x="360.1" y="15.8" font-size="10" fill="#222" style="font-family:&quot;Liberation Serif&quot;,serif" textLength="64.5" lengthAdjust="spacingAndGlyphs">Deconfinement</text>
<text x="364.8" y="24.2" font-size="10" fill="#222" style="font-family:&quot;Liberation Serif&quot;,serif" textLength="59.8" lengthAdjust="spacingAndGlyphs">GL transition</text>
<text x="362.5" y="32.6" font-size="10" fill="#222" style="font-family:&quot;Liberation Serif&quot;,serif" textLength="62.1" lengthAdjust="spacingAndGlyphs">Lattice results</text>
<text x="389.6" y="41.6" font-size="10.0" fill="#222" style="font-family:&quot;Liberation Serif&quot;,serif;font-style:italic" textLength="6.8" lengthAdjust="spacingAndGlyphs">α</text>
<text x="399.4" y="41.6" font-size="10.0" fill="#222" style="font-family:&quot;Liberation Serif&quot;,serif;font-style:normal" textLength="7.9" lengthAdjust="spacingAndGlyphs">=</text>
<text x="410.2" y="41.6" font-size="10.0" fill="#222" style="font-family:&quot;Liberation Serif&quot;,serif;font-style:normal" textLength="15.2" lengthAdjust="spacingAndGlyphs">1/2</text>
<text x="399.7" y="50.2" font-size="10.0" fill="#222" style="font-family:&quot;Liberation Serif&quot;,serif;font-style:italic" textLength="5.7" lengthAdjust="spacingAndGlyphs">α</text>
<text x="409.4" y="50.2" font-size="10.0" fill="#222" style="font-family:&quot;Liberation Serif&quot;,serif;font-style:normal" textLength="7.5" lengthAdjust="spacingAndGlyphs">=</text>
<text x="419.7" y="50.2" font-size="10.0" fill="#222" style="font-family:&quot;Liberation Serif&quot;,serif;font-style:normal" textLength="5.2" lengthAdjust="spacingAndGlyphs">1</text>
<text x="399.7" y="58.8" font-size="10.0" fill="#222" style="font-family:&quot;Liberation Serif&quot;,serif;font-style:italic" textLength="5.7" lengthAdjust="spacingAndGlyphs">α</text>
<text x="409.4" y="58.8" font-size="10.0" fill="#222" style="font-family:&quot;Liberation Serif&quot;,serif;font-style:normal" textLength="7.5" lengthAdjust="spacingAndGlyphs">=</text>
<text x="419.7" y="58.8" font-size="10.0" fill="#222" style="font-family:&quot;Liberation Serif&quot;,serif;font-style:normal" textLength="5.2" lengthAdjust="spacingAndGlyphs">2</text>
<text x="399.7" y="67.4" font-size="10.0" fill="#222" style="font-family:&quot;Liberation Serif&quot;,serif;font-style:italic" textLength="5.7" lengthAdjust="spacingAndGlyphs">α</text>
<text x="409.4" y="67.4" font-size="10.0" fill="#222" style="font-family:&quot;Liberation Serif&quot;,serif;font-style:normal" textLength="7.5" lengthAdjust="spacingAndGlyphs">=</text>
<text x="419.7" y="67.4" font-size="10.0" fill="#222" style="font-family:&quot;Liberation Serif&quot;,serif;font-style:normal" textLength="5.2" lengthAdjust="spacingAndGlyphs">4</text>
<line x1="429.3" y1="13.2" x2="448.6" y2="13.2" stroke="#0072bd" stroke-width="1.8"/>
<line x1="429.3" y1="21.7" x2="448.6" y2="21.7" stroke="#e4231c" stroke-width="1.8"/>
<line x1="429.3" y1="30.3" x2="448.6" y2="30.3" stroke="#a81f2c" stroke-width="0.7"/>
<line x1="429.3" y1="29" x2="429.3" y2="31.6" stroke="#a81f2c" stroke-width="0.7"/>
<line x1="448.6" y1="29" x2="448.6" y2="31.6" stroke="#a81f2c" stroke-width="0.7"/>
<circle cx="438.7" cy="30.3" r="3.2" fill="#a81f2c"/>
<line x1="429.3" y1="39.6" x2="449" y2="39.6" stroke="#6ccfae" stroke-width="0.9" stroke-dasharray="2 2.5"/>
<line x1="429.3" y1="47.9" x2="449" y2="47.9" stroke="#86b8e6" stroke-width="0.9" stroke-dasharray="2 2.5"/>
<line x1="429.3" y1="56.2" x2="449" y2="56.2" stroke="#f5c27a" stroke-width="0.9" stroke-dasharray="2 2.5"/>
<line x1="429.3" y1="64.8" x2="449" y2="64.8" stroke="#a6d8f4" stroke-width="0.9" stroke-dasharray="2 2.5"/>
</svg>
</body></html>
